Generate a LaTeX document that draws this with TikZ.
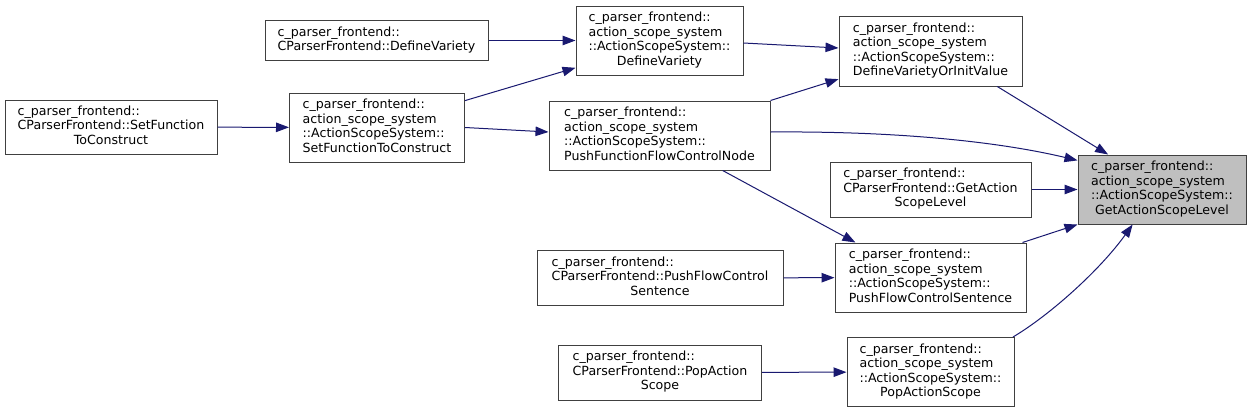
\documentclass[tikz,border=0pt]{standalone}
\usepackage{fontspec}
\setmainfont{DejaVu Sans}
\usepackage{tikz}
\usetikzlibrary{arrows.meta}
\definecolor{callblue}{HTML}{191970}
\definecolor{rootgray}{HTML}{BFBFBF}
\definecolor{boxgray}{HTML}{404040}
\newcommand{\fnname}[1]{\begin{tabular}{@{}l@{}}#1\end{tabular}}
\newcommand{\lastln}[1]{\multicolumn{1}{@{}c@{}}{#1}}

\begin{document}
\begin{tikzpicture}[x=1pt, y=-1pt,
  func/.style={rectangle, draw=boxgray, fill=white, line width=1pt, inner sep=0pt, font=\fontsize{12.6}{14.5}\selectfont},
  root/.style={func, fill=rootgray},
  call/.style={-{Triangle[length=13pt, width=9.5pt]}, callblue, line width=1pt}
]
\useasboundingbox[fill=white] (0,0) rectangle (1251,413);

\node[func, minimum width=212pt, minimum height=54pt] (cpfSetFunc) at (111,127) {\fnname{c\_parser\_frontend::\\CParserFrontend::SetFunction\\\lastln{ToConstruct}}};
\node[func, minimum width=175pt, minimum height=69pt] (assSetFunc) at (377,127.5) {\fnname{c\_parser\_frontend::\\action\_scope\_system\\::ActionScopeSystem::\\\lastln{SetFunctionToConstruct}}};
\node[func, minimum width=223pt, minimum height=40pt] (cpfDefVar) at (376.5,40.5) {\fnname{c\_parser\_frontend::\\CParserFrontend::DefineVariety}};
\node[func, minimum width=167pt, minimum height=69pt] (assDefVar) at (659.5,40.5) {\fnname{c\_parser\_frontend::\\action\_scope\_system\\::ActionScopeSystem::\\\lastln{DefineVariety}}};
\node[func, minimum width=221pt, minimum height=69pt] (assPushFunc) at (659.5,135.5) {\fnname{c\_parser\_frontend::\\action\_scope\_system\\::ActionScopeSystem::\\\lastln{PushFunctionFlowControlNode}}};
\node[func, minimum width=183pt, minimum height=70pt] (assDefInit) at (930.5,51) {\fnname{c\_parser\_frontend::\\action\_scope\_system\\::ActionScopeSystem::\\\lastln{DefineVarietyOrInitValue}}};
\node[func, minimum width=201pt, minimum height=55pt] (cpfGetLevel) at (930.5,189.5) {\fnname{c\_parser\_frontend::\\CParserFrontend::GetAction\\\lastln{ScopeLevel}}};
\node[root, minimum width=168pt, minimum height=69pt] (assGetLevel) at (1162,189.5) {\fnname{c\_parser\_frontend::\\action\_scope\_system\\::ActionScopeSystem::\\\lastln{GetActionScopeLevel}}};
\node[func, minimum width=246pt, minimum height=55pt] (cpfPushFlow) at (660,278) {\fnname{c\_parser\_frontend::\\CParserFrontend::PushFlowControl\\\lastln{Sentence}}};
\node[func, minimum width=191pt, minimum height=69pt] (assPushFlow) at (930.5,277.5) {\fnname{c\_parser\_frontend::\\action\_scope\_system\\::ActionScopeSystem::\\\lastln{PushFlowControlSentence}}};
\node[func, minimum width=203pt, minimum height=55pt] (cpfPopScope) at (660,372.5) {\fnname{c\_parser\_frontend::\\CParserFrontend::PopAction\\\lastln{Scope}}};
\node[func, minimum width=167pt, minimum height=69pt] (assPopScope) at (930.5,372) {\fnname{c\_parser\_frontend::\\action\_scope\_system\\::ActionScopeSystem::\\\lastln{PopActionScope}}};

\draw[call] (cpfSetFunc) -- (assSetFunc);
\draw[call] (cpfDefVar) -- (assDefVar);
\draw[call] (assSetFunc.17) -- (assDefVar.198);
\draw[call] (assSetFunc.east) -- ([yshift=3.5pt]assPushFunc.west);
\draw[call] ([yshift=-2.5pt]assDefVar.east) -- ([yshift=3pt]assDefInit.west);
\draw[call] (assPushFunc.north east) -- (assDefInit.197);
\draw[call] ([yshift=3.5pt]assPushFunc.east) .. controls (900,131) and (1000,142) .. (assGetLevel.161);
\draw[call] (assDefInit.332) -- (assGetLevel.147);
\draw[call] (cpfGetLevel) -- (assGetLevel);
\draw[call] (assPushFunc.331) -- (assPushFlow.155);
\draw[call] (cpfPushFlow) -- (assPushFlow);
\draw[call] ([xshift=-4pt]assPushFlow.north east) -- (assGetLevel.south west);
\draw[call] (cpfPopScope) -- (assPopScope);
\draw[call] (assPopScope.23) .. controls (1050,315) and (1100,270) .. (assGetLevel.230);
\end{tikzpicture}
\end{document}
